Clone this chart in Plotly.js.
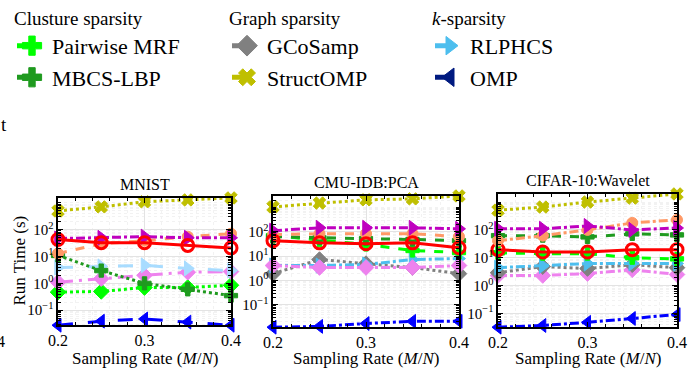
<!DOCTYPE html>
<html><head><meta charset="utf-8">
<script src="https://cdn.plot.ly/plotly-3.0.1.min.js"></script>
<style>html,body{margin:0;padding:0;background:#fff}#chart{width:699px;height:369px}</style>
</head><body><div id="chart"></div>
<script>
// ---- data ----
const rates = [0.2, 0.25, 0.3, 0.35, 0.4];
const panelTitles = ['MNIST', 'CMU-IDB:PCA', 'CIFAR-10:Wavelet'];
const xTickVals = [0.2, 0.3, 0.4];
const xTickText = ['0.2', '0.3', '0.4'];
const yTickVals = [0.1, 1, 10, 100];
const yTickText = ['10<sup>−1</sup>', '10<sup>0</sup>', '10<sup>1</sup>', '10<sup>2</sup>'];
const legendNames = ['Pairwise MRF', 'MBCS-LBP', 'GCoSamp', 'StructOMP', 'RLPHCS', 'OMP'];
const legendTitles = ['Clusture sparsity', 'Graph sparsity', '<i>k</i>-sparsity'];

// MNIST (run time, s)
const mnistStructOMP = [500, 710, 1100, 1290, 1530];
const mnistMagenta   = [47, 50, 55, 50, 50];
const mnistRed       = [43, 33, 33, 26, 21];
const mnistOrange    = [13, 30, 39, 55, 71];
const mnistDarkGreen = [11, 3.0, 1.0, 0.6, 0.35];
const mnistLightBlue = [3.9, 4.3, 4.7, 3.6, 3.0];
const mnistPink      = [1.1, 1.5, 2.0, 2.6, 2.75];
const mnistLime      = [0.47, 0.5, 0.7, 0.7, 0.85];
const mnistBlue      = [0.0275, 0.039, 0.047, 0.036, 0.0275];

// CMU-IDB:PCA
const cmuStructOMP = [1050, 1510, 2040, 2240, 2950];
const cmuMagenta   = [110, 145, 145, 145, 132];
const cmuOrange    = [76, 83, 83, 83, 63];
const cmuRed       = [43, 35, 32, 35, 22];
const cmuDarkGreen = [63, 56, 52, 48, 43];
const cmuLime      = [69, 45, 30, 17, 14];
const cmuGray      = [1.9, 7.2, 4.9, 3.4, 1.9];
const cmuLightBlue = [4.1, 4.1, 4.5, 7.2, 7.9];
const cmuPink      = [4.1, 3.4, 3.4, 3.4, 4.1];
const cmuBlue      = [0.012, 0.013, 0.017, 0.021, 0.021];

// CIFAR-10:Wavelet
const cifarStructOMP = [510, 660, 1000, 1380, 1950];
const cifarMagenta   = [110, 110, 138, 100, 117];
const cifarOrange    = [41, 62, 100, 178, 229];
const cifarDarkGreen = [62, 62, 56, 72, 66];
const cifarRed       = [19.5, 16, 16, 19.5, 19.5];
const cifarLime      = [15, 14, 14, 10, 9.1];
const cifarLightBlue = [4.4, 5.1, 6.2, 6.2, 6.2];
const cifarGray      = [2.9, 4.8, 4.1, 5.6, 4.4];
const cifarPink      = [2.3, 2.3, 2.7, 3.7, 2.5];
const cifarBlue      = [0.032, 0.037, 0.048, 0.066, 0.091];

// ---- styles ----
const FONT = 'Liberation Serif';
const C = {olive:'#bfbf00', red:'#ff0000', orange:'#ff9966', magenta:'#bf00bf', pink:'#ee82ee',
  lblue:'#4dbeee', paleblue:'#a8dcff', dgreen:'#1f9a1f', lime:'#00ff00', gray:'#808080', blue:'#0000ff', navy:'#001a80'};
function st(color, dash, symbol, size, open){
  return {color, dash, symbol, size, open};
}
const panels = [
  [ [mnistBlue, st(C.blue,'longdash','triangle-left',12)],
    [mnistLime, st(C.lime,'dot','diamond',12)],
    [mnistPink, st(C.pink,'longdashdot','diamond',12)],
    [mnistLightBlue, st(C.paleblue,'longdash','triangle-right',13)],
    [mnistDarkGreen, st(C.dgreen,'dot','cross',11)],
    [mnistOrange, st(C.orange,'dash','circle',11)],
    [mnistMagenta, st(C.magenta,'dashdot','triangle-right',13)],
    [mnistRed, st(C.red,'solid','circle-open',12,true)],
    [mnistStructOMP, st(C.olive,'dot','x',11)] ],
  [ [cmuBlue, st(C.blue,'dashdot','triangle-left',12)],
    [cmuGray, st(C.gray,'dot','diamond',12)],
    [cmuLightBlue, st(C.lblue,'dashdot','triangle-right',13)],
    [cmuPink, st(C.pink,'dashdot','diamond',12)],
    [cmuLime, st(C.lime,'dash','cross',11)],
    [cmuDarkGreen, st(C.dgreen,'dash','cross',11)],
    [cmuOrange, st(C.orange,'dash','circle',11)],
    [cmuMagenta, st(C.magenta,'dashdot','triangle-right',13)],
    [cmuRed, st(C.red,'solid','circle-open',12,true)],
    [cmuStructOMP, st(C.olive,'dot','x',11)] ],
  [ [cifarBlue, st(C.blue,'dashdot','triangle-left',12)],
    [cifarPink, st(C.pink,'dashdot','diamond',12)],
    [cifarGray, st(C.gray,'dot','diamond',12)],
    [cifarLightBlue, st(C.lblue,'dashdot','triangle-right',13)],
    [cifarLime, st(C.lime,'dash','cross',11)],
    [cifarDarkGreen, st(C.dgreen,'dash','cross',11)],
    [cifarRed, st(C.red,'solid','circle-open',12,true)],
    [cifarOrange, st(C.orange,'dashdot','circle',11)],
    [cifarMagenta, st(C.magenta,'dashdot','triangle-right',13)],
    [cifarStructOMP, st(C.olive,'dot','x',11)] ]
];

const W = 699, H = 369;
const px = v => v / W, py = v => 1 - v / H;
// plot boxes in pixels [left, right, top, bottom]
const boxes = [[58, 231, 197, 325], [273, 459, 195, 327], [498, 677, 193, 327]];

const traces = [];
panels.forEach((series, p) => {
  const xa = p === 0 ? 'x' : 'x' + (p + 1), ya = p === 0 ? 'y' : 'y' + (p + 1);
  series.forEach(([vals, s]) => {
    traces.push({
      x: rates, y: vals, xaxis: xa, yaxis: ya, type: 'scatter', mode: 'lines+markers',
      showlegend: false, cliponaxis: false,
      line: {color: s.color, width: 3, dash: s.dash},
      marker: {symbol: s.symbol, size: s.size, color: s.color,
               line: {color: s.color, width: s.open ? 3 : 1}}
    });
  });
});

// legend entries
const legendStyles = [
  ['legend', st(C.lime,'dash','cross',16)],
  ['legend', st(C.dgreen,'dash','cross',16)],
  ['legend2', st(C.gray,'dash','diamond',16)],
  ['legend2', st(C.olive,'dash','x',15)],
  ['legend3', st(C.lblue,'dash','triangle-right',16)],
  ['legend3', st(C.navy,'dash','triangle-left',16)]
];
legendNames.forEach((name, i) => {
  const [lg, s] = legendStyles[i];
  traces.push({x: [null], y: [null], type: 'scatter', mode: 'lines+markers', name, legend: lg,
    showlegend: true, line: {color: s.color, width: 5, dash: s.dash},
    marker: {symbol: s.symbol, size: s.size, color: s.color, line: {color: s.color, width: 1}}});
});

const layout = {
  width: W, height: H, margin: {l: 0, r: 0, t: 0, b: 0},
  paper_bgcolor: '#fff', plot_bgcolor: '#fff',
  font: {family: FONT, size: 15, color: '#000'},
  annotations: [], showlegend: true
};
const legendX = [12, 227, 430];
['legend', 'legend2', 'legend3'].forEach((lg, i) => {
  layout[lg] = {x: px(legendX[i]), y: 1.005, xanchor: 'left', yanchor: 'top', bgcolor: 'rgba(0,0,0,0)',
    borderwidth: 0, font: {family: FONT, size: 22, color: '#000'}, tracegroupgap: 0,
    title: {text: legendTitles[i], side: 'top', font: {family: FONT, size: 19, color: '#000'}}};
});

boxes.forEach((b, p) => {
  const sfx = p === 0 ? '' : String(p + 1);
  const vals = panels[p].flatMap(d => d[0]);
  const lo = Math.log10(Math.min(...vals)), hi = Math.log10(Math.max(...vals));
  layout['xaxis' + sfx] = {
    domain: [px(b[0]), px(b[1])], anchor: 'y' + sfx, range: [0.2, 0.4],
    tickmode: 'array', tickvals: xTickVals, ticktext: xTickText,
    ticks: 'inside', ticklen: 5, tickwidth: 1, tickcolor: '#000',
    showline: true, linecolor: '#000', linewidth: 1.6, mirror: 'allticks',
    showgrid: true, gridcolor: '#e3e3e3', gridwidth: 1, zeroline: false,
    tickfont: {family: FONT, size: 16},
    minor: {tickmode: 'linear', tick0: 0.2, dtick: 0.02, ticks: 'inside', ticklen: 3, tickcolor: '#000', showgrid: true, gridcolor: '#f2f2f2', griddash: 'dot'}
  };
  layout['yaxis' + sfx] = {
    domain: [py(b[3]), py(b[2])], anchor: 'x' + sfx, type: 'log', range: [lo, hi],
    tickmode: 'array', tickvals: yTickVals, ticktext: yTickText,
    ticks: 'inside', ticklen: 5, tickwidth: 1, tickcolor: '#000',
    showline: true, linecolor: '#000', linewidth: 1.6, mirror: 'allticks',
    showgrid: true, gridcolor: '#e3e3e3', gridwidth: 1, zeroline: false,
    tickfont: {family: FONT, size: 15},
    minor: {dtick: 'D1', ticks: 'inside', ticklen: 3, tickcolor: '#000', showgrid: true, gridcolor: '#f2f2f2', griddash: 'dot'}
  };
  layout.annotations.push({text: panelTitles[p], xref: 'paper', yref: 'paper', x: px((b[0] + b[1]) / 2), y: py(b[2] - 3),
    xanchor: 'center', yanchor: 'bottom', showarrow: false, font: {family: FONT, size: 16}});
  layout.annotations.push({text: 'Sampling Rate (<i>M</i>/<i>N</i>)', xref: 'paper', yref: 'paper', x: px((b[0] + b[1]) / 2), y: py(358.5),
    xanchor: 'center', yanchor: 'middle', showarrow: false, font: {family: FONT, size: 17}});
});
layout.annotations.push({text: 'Run Time (s)', xref: 'paper', yref: 'paper', x: px(20), y: py(260), textangle: -90,
  xanchor: 'center', yanchor: 'middle', showarrow: false, font: {family: FONT, size: 17}});
layout.annotations.push({text: 't', xref: 'paper', yref: 'paper', x: px(-1), y: py(123), xanchor: 'left', yanchor: 'middle', showarrow: false, font: {family: FONT, size: 19}});
layout.annotations.push({text: '4', xref: 'paper', yref: 'paper', x: px(-5), y: py(341), xanchor: 'left', yanchor: 'middle', showarrow: false, font: {family: FONT, size: 16}});

Plotly.newPlot('chart', traces, layout, {staticPlot: true, displayModeBar: false});
</script></body></html>
